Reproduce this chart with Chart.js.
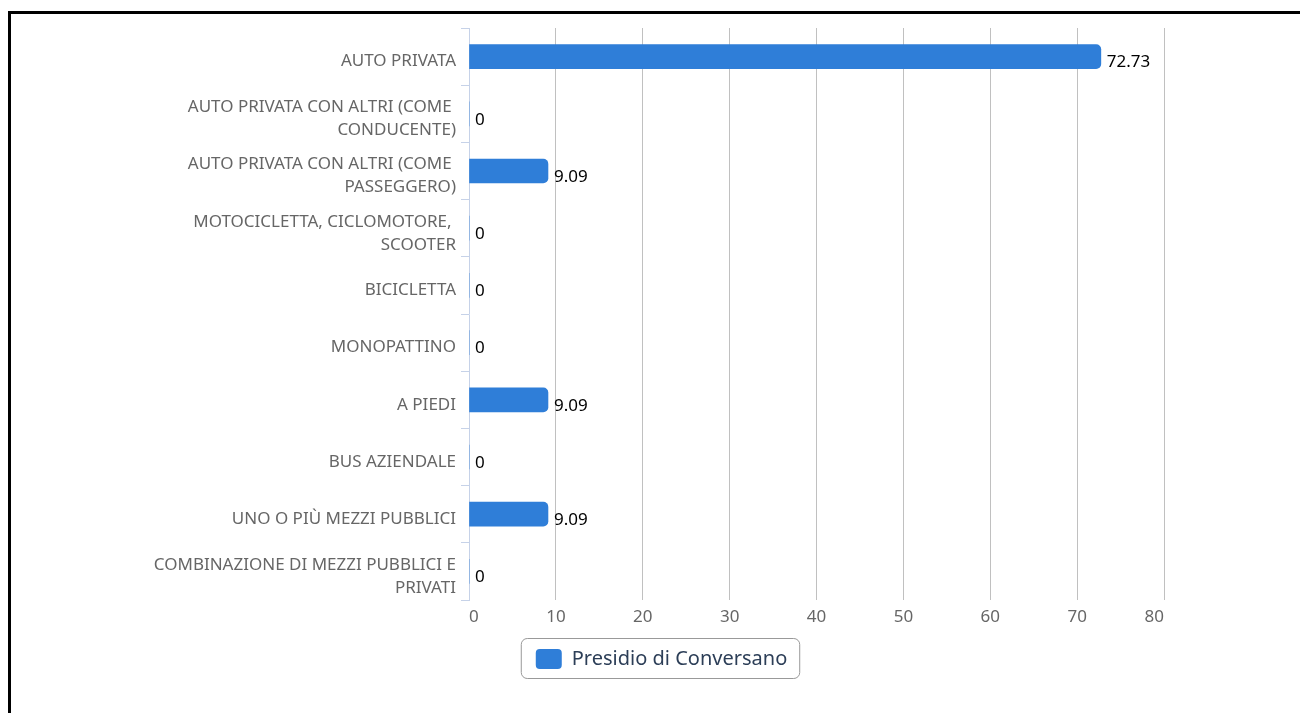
<!DOCTYPE html>
<html>
<head>
<meta charset="utf-8">
<script src="https://cdn.jsdelivr.net/npm/chart.js@4.4.1/dist/chart.umd.min.js"></script>
<style>
  body { margin: 0; background: #fff; }
  #frame {
    position: absolute; left: 8px; top: 11px;
    width: 1301px; height: 710px;
    border: 3px solid #000; background: #fff;
  }
  canvas { display: block; }
</style>
</head>
<body>
<div id="frame">
  <canvas id="myChart" width="1301" height="699"></canvas>
</div>
<script>
const categorie = [
  "AUTO PRIVATA",
  ["AUTO PRIVATA CON ALTRI (COME ", "CONDUCENTE)"],
  ["AUTO PRIVATA CON ALTRI (COME ", "PASSEGGERO)"],
  ["MOTOCICLETTA, CICLOMOTORE, ", "SCOOTER"],
  "BICICLETTA",
  "MONOPATTINO",
  "A PIEDI",
  "BUS AZIENDALE",
  "UNO O PIÙ MEZZI PUBBLICI",
  ["COMBINAZIONE DI MEZZI PUBBLICI E", "PRIVATI"]
];
const valori = [72.73, 0, 9.09, 0, 0, 0, 9.09, 0, 9.09, 0];
const nomeSerie = "Presidio di Conversano";
const asseMin = 0;
const asseMax = 80;
const passo = 10;

const fontBase = '"Noto Sans", "Open Sans", sans-serif';

// etichette dei valori a destra delle barre
const etichetteValori = {
  id: "etichetteValori",
  afterDatasetsDraw(chart) {
    const ctx = chart.ctx;
    const meta = chart.getDatasetMeta(0);
    ctx.save();
    ctx.font = "17px " + fontBase;
    ctx.fillStyle = "#000";
    ctx.textAlign = "left";
    ctx.textBaseline = "middle";
    meta.data.forEach((bar, i) => {
      ctx.fillText(String(valori[i]), bar.x + 6, bar.y + 6);
    });
    ctx.restore();
  }
};

// cornice arrotondata attorno alla legenda
const cornicceLegenda = {
  id: "cornicceLegenda",
  afterDraw(chart) {
    const legend = chart.legend;
    if (!legend || !legend.legendHitBoxes.length) return;
    const hb = legend.legendHitBoxes[0];
    const ctx = chart.ctx;
    const x = hb.left - 14.5;
    const y = hb.top - 10.5;
    const w = hb.width + 27;
    const h = 40;
    ctx.save();
    ctx.strokeStyle = "#999";
    ctx.lineWidth = 1;
    ctx.beginPath();
    ctx.roundRect(x, y, w, h, 6);
    ctx.stroke();
    ctx.restore();
  }
};

const config = {
  type: "bar",
  data: {
    labels: categorie,
    datasets: [
      {
        label: nomeSerie,
        data: valori,
        backgroundColor: "#2f7ed8",
        borderRadius: 5,
        barThickness: 24,
        xAxisID: "x",
        yAxisID: "y"
      }
    ]
  },
  options: {
    indexAxis: "y",
    responsive: false,
    animation: false,
    layout: { padding: { top: 14, bottom: 34, left: 0, right: 0 } },
    scales: {
      y: {
        type: "category",
        position: "left",
        grid: {
          drawOnChartArea: false,
          drawTicks: true,
          tickLength: 8,
          color: "#c6d2e8",
          offset: true
        },
        border: { display: true, color: "#c6d2e8" },
        ticks: {
          color: "#666",
          padding: 5,
          labelOffset: 5,
          font: { size: 17, family: fontBase, lineHeight: 1.35 }
        },
        afterFit(scale) {
          scale.width = 458;
          scale.paddingTop = 0;
          scale.paddingBottom = 0;
        }
      },
      yDestra: {
        type: "linear",
        position: "right",
        display: true,
        grid: { display: false },
        border: { display: false },
        ticks: { display: false },
        afterFit(scale) {
          scale.width = 148;
          scale.paddingTop = 0;
          scale.paddingBottom = 0;
        }
      },
      x: {
        type: "linear",
        position: "bottom",
        min: asseMin,
        max: asseMax,
        grid: {
          drawTicks: false,
          color: (c) => (c.tick && c.tick.value === 0 ? "rgba(0,0,0,0)" : "#c0c0c0")
        },
        border: { display: false },
        ticks: {
          stepSize: passo,
          color: "#666",
          padding: 7,
          align: "inner",
          font: { size: 17, family: fontBase }
        },
        afterFit(scale) {
          scale.height = 38;
          scale.paddingLeft = 0;
          scale.paddingRight = 0;
        }
      }
    },
    plugins: {
      legend: {
        display: true,
        position: "bottom",
        labels: {
          boxWidth: 26,
          boxHeight: 20,
          useBorderRadius: true,
          borderRadius: 4,
          padding: 11,
          color: "#2c3e57",
          font: { size: 20, family: fontBase }
        }
      },
      tooltip: { enabled: false }
    }
  },
  plugins: [etichetteValori, cornicceLegenda]
};

new Chart(document.getElementById("myChart"), config);
</script>
</body>
</html>
